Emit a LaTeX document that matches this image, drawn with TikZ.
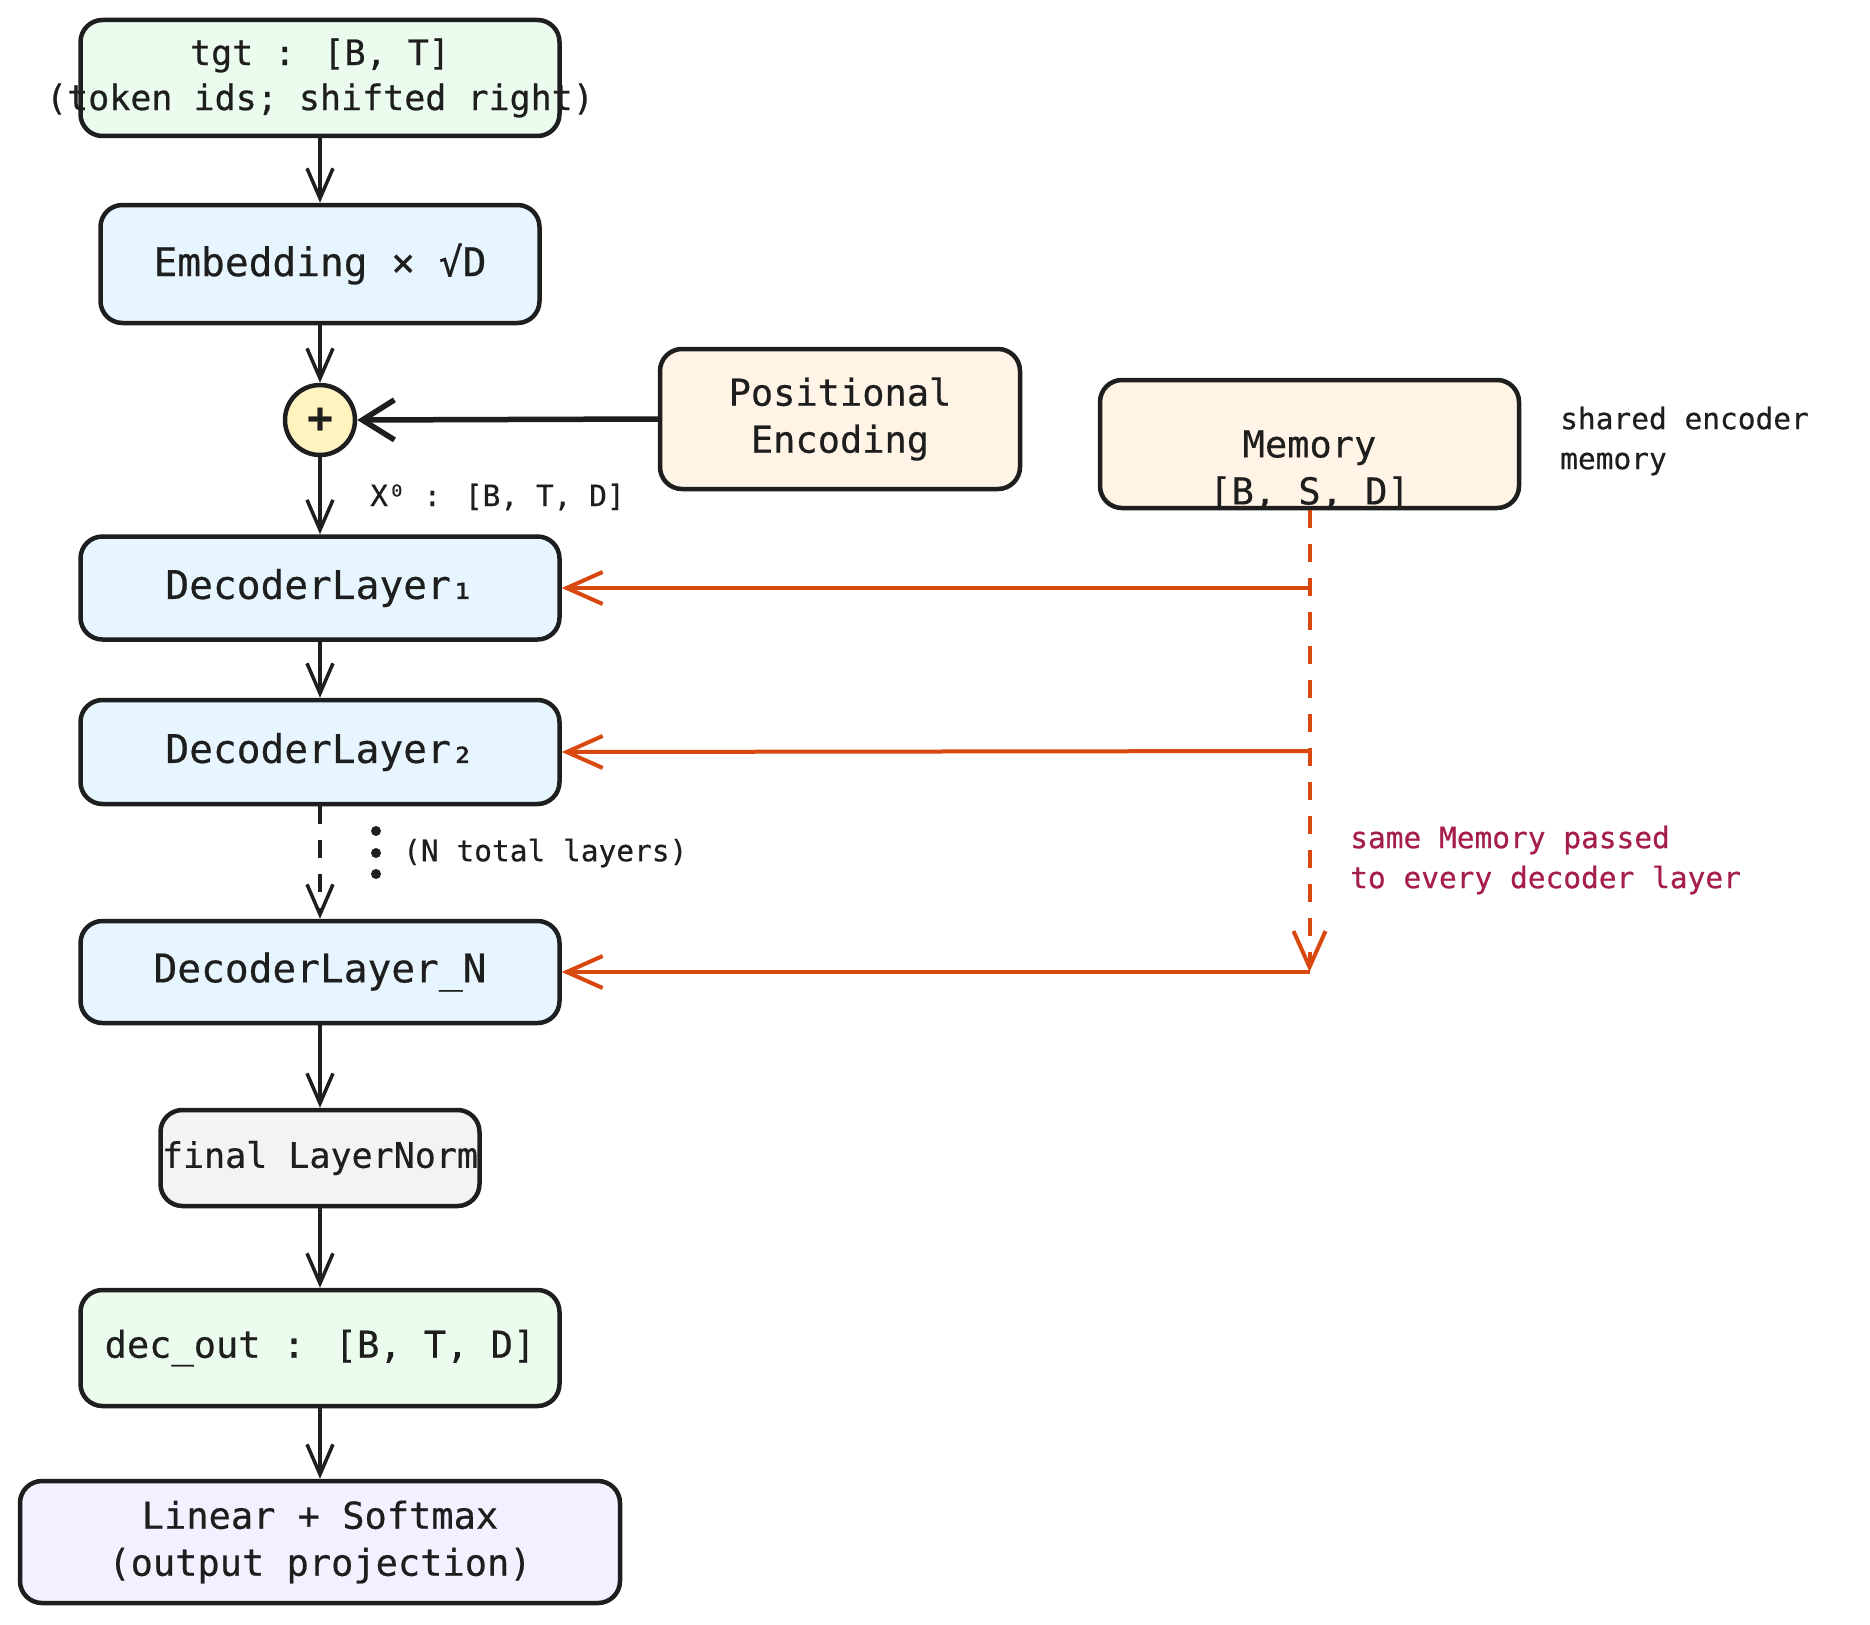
\documentclass[tikz,border=0pt]{standalone}
\usepackage{fontspec}
\newfontfamily\dmono[FakeBold=0.5]{DejaVu Sans Mono}
\usetikzlibrary{arrows.meta}
\definecolor{ink}{HTML}{1E1E1E}
\definecolor{greenfill}{HTML}{EBFBEE}
\definecolor{bluefill}{HTML}{E7F5FF}
\definecolor{orangefill}{HTML}{FFF4E6}
\definecolor{greyfill}{HTML}{F1F3F5}
\definecolor{purplefill}{HTML}{F3F0FF}
\definecolor{yellowfill}{HTML}{FFF3BF}
\definecolor{memline}{HTML}{D9480F}
\definecolor{notecol}{HTML}{A61E4D}
\tikzset{
  box/.style={draw=ink, line width=4.5pt, rounded corners=22pt, align=center, inner sep=0pt,
    font=\dmono\fontsize{37}{47}\selectfont, text=ink},
  big/.style={font=\dmono\fontsize{39.5}{47}\selectfont},
  lbl/.style={font=\dmono\fontsize{29.5}{40}\selectfont, text=ink, inner sep=0pt, align=left},
  flow/.style={draw=ink, line width=3.5pt, -{Straight Barb[length=30pt,width=26pt,line width=3.5pt]}},
  memarrow/.style={draw=memline, line width=4pt, -{Straight Barb[length=36pt,width=32pt,line width=4pt]}},
}
\begin{document}
\begin{tikzpicture}[x=1pt,y=-1pt]
\useasboundingbox[fill=white] (0,0) rectangle (1870,1624);

\node[box, fill=greenfill, minimum width=479pt, minimum height=116pt, font=\dmono\fontsize{35}{45}\selectfont] (tgt) at (320,78)
  {\makebox[0pt]{tgt : [B, T]}\\\makebox[0pt]{(token ids; shifted right)}};
\node[box, big, fill=bluefill, minimum width=439pt, minimum height=118pt] (emb) at (320,264)
  {Embedding × √D};
\node[box, circle, rounded corners=0pt, fill=yellowfill, minimum size=70pt, font=\dmono\fontsize{42}{42}\selectfont] (plus) at (320,420)
  {\textbf{+}};
\node[box, fill=orangefill, minimum width=360pt, minimum height=140pt] (pe) at (840,419)
  {Positional\\Encoding};
\node[box, fill=orangefill, minimum width=419pt, minimum height=128pt] (mem) at (1309.5,444) {};
\node[box, draw=none, fill=none, rounded corners=0pt] (memtxt) at (1309.5,470) {Memory\\ \mbox{[B, S, D]}};
\node[lbl, anchor=west] (memnote) at (1560,441) {shared encoder\\memory};

\node[lbl, anchor=west] (x0) at (370,497) {X⁰ : [B, T, D]};

\node[box, big, fill=bluefill, minimum width=479pt, minimum height=103pt] (dl1) at (320,588) {DecoderLayer₁};
\node[box, big, fill=bluefill, minimum width=479pt, minimum height=104pt] (dl2) at (320,752) {DecoderLayer₂};
\node[box, big, fill=bluefill, minimum width=479pt, minimum height=102pt] (dln) at (320,972) {DecoderLayer\_N};
\node[box, fill=greyfill, minimum width=319pt, minimum height=96pt, font=\dmono\fontsize{35}{45}\selectfont] (ln) at (320,1158)
  {\makebox[0pt]{final LayerNorm}};
\node[box, fill=greenfill, minimum width=479pt, minimum height=116pt] (out) at (320,1348)
  {dec\_out : [B, T, D]};
\node[box, fill=purplefill, minimum width=600pt, minimum height=122pt] (lin) at (320,1542)
  {Linear + Softmax\\(output projection)};

\fill[ink] (376,831) circle (5pt) (376,853) circle (5pt) (376,874) circle (5pt);
\node[lbl, anchor=west] (ntotal) at (403,853) {(N total layers)};
\node[lbl, anchor=west, text=notecol] (samenote) at (1350,860) {same Memory passed\\to every decoder layer};

\coordinate (m1) at (1309.5,588);
\coordinate (m2) at (1309.5,751);
\coordinate (m3) at (1309.5,972);

\draw[flow] (tgt.south) -- (emb.north);
\draw[flow] (emb.south) -- (plus.north);
\draw[draw=ink, line width=5.5pt, -{Straight Barb[length=32pt,width=40pt,line width=5.5pt]}] (pe.west) -- (plus.east);
\draw[flow] (plus.south) -- (dl1.north);
\draw[flow] (dl1.south) -- (dl2.north);
\draw[flow, dash pattern=on 18pt off 16pt] (dl2.south) -- (dln.north);
\draw[flow] (dln.south) -- (ln.north);
\draw[flow] (ln.south) -- (out.north);
\draw[flow] (out.south) -- (lin.north);

\draw[memarrow, dash pattern=on 18pt off 16pt] (mem.south) -- (m3);
\draw[memarrow] (m1) -- (dl1.east);
\draw[memarrow] (m2) -- (dl2.east);
\draw[memarrow] (m3) -- (dln.east);
\end{tikzpicture}
\end{document}
